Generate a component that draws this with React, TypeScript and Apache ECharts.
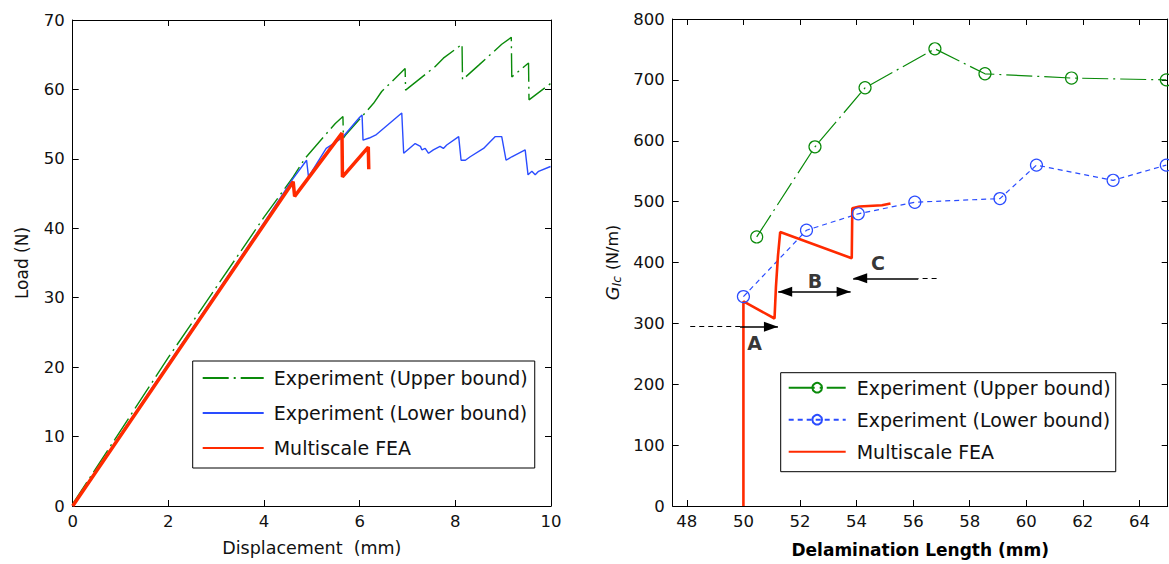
import React, { useEffect, useRef } from 'react';
import * as echarts from 'echarts';

// ---------- Left chart: Load vs Displacement ----------
const loadUpper: number[][] = [
  [0, 0.3], [2, 21.4], [4, 41.6], [4.61, 47.4], [4.86, 50.1], [5.49, 55.1], [5.65, 56.1],
  [5.66, 53.0], [5.7, 53.4], [6.29, 58.0], [6.46, 59.7], [6.95, 63.0], [6.96, 59.9],
  [7.58, 63.3], [7.75, 64.5], [8.14, 66.5], [8.15, 61.4], [8.49, 63.5], [8.97, 66.5],
  [9.17, 67.5], [9.18, 61.8], [9.53, 63.8], [9.54, 58.5], [10, 60.9]
];
const loadLower: number[][] = [
  [0, 0], [2, 20.5], [4, 40.8], [4.61, 47.2], [4.89, 49.8], [4.93, 47.4], [5.3, 51.5],
  [5.63, 53.0], [6.0, 56.0], [6.05, 56.3], [6.07, 52.7], [6.2, 53.0], [6.35, 53.5],
  [6.88, 56.6], [6.92, 50.8], [7.16, 52.2], [7.27, 51.8], [7.3, 51.3], [7.37, 51.5],
  [7.44, 50.8], [7.54, 51.3], [7.68, 51.8], [7.75, 51.5], [7.82, 52.0], [8.07, 53.2],
  [8.12, 49.8], [8.21, 49.8], [8.31, 50.3], [8.59, 51.5], [8.83, 53.2], [8.97, 53.2],
  [9.06, 49.8], [9.18, 50.3], [9.46, 51.3], [9.52, 47.7], [9.6, 48.2], [9.67, 47.7],
  [9.74, 48.2], [9.99, 48.9]
];
const loadFEA: number[][] = [
  [0, 0], [4.61, 46.7], [4.64, 44.6], [5.63, 53.7], [5.64, 47.4], [6.18, 51.7], [6.19, 48.5]
];

// ---------- Right chart: G_Ic vs Delamination length ----------
const gUpperX = [50.47, 52.53, 54.3, 56.77, 58.54, 61.6, 64.95];
const gUpperY = [442, 590, 687, 751, 710, 703, 700];
const gLowerX = [50.0, 52.23, 54.06, 56.06, 59.07, 60.36, 63.07, 64.95];
const gLowerY = [344, 453, 480, 499, 505, 560, 535, 560];
const gFEA: number[][] = [
  [50, 0], [50, 336], [51.1, 308], [51.15, 360], [51.22, 410], [51.3, 450],
  [53.83, 407], [53.85, 489], [54.1, 492], [54.9, 494], [55.2, 497]
];

const leftXTicks = [0, 10, 2];
const leftYTicks = [0, 70, 10];
const rightXLabels = [48, 50, 52, 54, 56, 58, 60, 62, 64];
const rightXRange = [47.5, 65];
const rightYTicks = [0, 800, 100];

const annLabels = [
  { name: 'A', value: [50.4, 267] },
  { name: 'B', value: [52.53, 369] },
  { name: 'C', value: [54.76, 399] }
];

const FONT = 'DejaVu Sans';
const GREEN = '#0a8a0a';
const BLUE = '#2a4cff';
const RED = '#ff2a00';

const NAME_UP = 'Experiment (Upper bound)';
const NAME_LO = 'Experiment (Lower bound)';
const NAME_FEA = 'Multiscale FEA';

export default function App() {
  const ref = useRef<HTMLDivElement>(null);
  useEffect(() => {
    const chart = echarts.init(ref.current!, null, { renderer: 'svg' });
    const axisLine = { show: true, onZero: false, lineStyle: { color: '#000', width: 1 } };
    const tick = { show: true, inside: true, length: 6, lineStyle: { color: '#000' } };
    const lbl = { fontFamily: FONT, fontSize: 16.5, color: '#111' };
    const hidden = { show: false };
    const noMark = { opacity: 0 };

    const arrowEnd = (size: number[]) => ({ symbol: 'triangle', symbolSize: size, symbolOffset: [0, size[1] / 2] });

    const option: any = {
      animation: false,
      backgroundColor: '#fff',
      grid: [
        { left: 72.7, top: 20, width: 478.3, height: 486 },
        { left: 672.7, top: 19, width: 495, height: 487 }
      ],
      xAxis: [
        {
          gridIndex: 0, type: 'value', position: 'bottom', min: leftXTicks[0], max: leftXTicks[1], interval: leftXTicks[2],
          axisLine, axisTick: tick, splitLine: hidden,
          axisLabel: { ...lbl, margin: 7 },
          name: 'Displacement  (mm)', nameLocation: 'middle', nameGap: 33,
          nameTextStyle: { fontFamily: FONT, fontSize: 17.5, color: '#111' }
        },
        {
          gridIndex: 0, type: 'value', position: 'top', min: leftXTicks[0], max: leftXTicks[1], interval: leftXTicks[2],
          axisLine, axisTick: tick, splitLine: hidden, axisLabel: hidden
        },
        {
          gridIndex: 1, type: 'value', position: 'bottom', min: rightXRange[0], max: rightXRange[1],
          axisLine, axisTick: { ...tick, customValues: rightXLabels }, splitLine: hidden,
          axisLabel: { ...lbl, margin: 7, customValues: rightXLabels },
          name: 'Delamination Length (mm)', nameLocation: 'middle', nameGap: 35,
          nameTextStyle: { fontFamily: FONT, fontSize: 17, fontWeight: 'bold', color: '#000' }
        },
        {
          gridIndex: 1, type: 'value', position: 'top', min: rightXRange[0], max: rightXRange[1],
          axisLine, axisTick: { ...tick, customValues: rightXLabels }, splitLine: hidden, axisLabel: hidden
        }
      ],
      yAxis: [
        {
          gridIndex: 0, type: 'value', position: 'left', min: leftYTicks[0], max: leftYTicks[1], interval: leftYTicks[2],
          axisLine, axisTick: tick, splitLine: hidden,
          axisLabel: { ...lbl, margin: 8 },
          name: 'Load (N)', nameLocation: 'middle', nameGap: 42, nameRotate: 90,
          nameTextStyle: { fontFamily: FONT, fontSize: 17, color: '#111' }
        },
        {
          gridIndex: 0, type: 'value', position: 'right', min: leftYTicks[0], max: leftYTicks[1], interval: leftYTicks[2],
          axisLine, axisTick: tick, splitLine: hidden, axisLabel: hidden
        },
        {
          gridIndex: 1, type: 'value', position: 'left', min: rightYTicks[0], max: rightYTicks[1], interval: rightYTicks[2],
          axisLine, axisTick: tick, splitLine: hidden,
          axisLabel: { ...lbl, margin: 8 },
          name: '{g|G}{s|Ic} (N/m)', nameLocation: 'middle', nameGap: 50, nameRotate: 90,
          nameTextStyle: {
            fontFamily: FONT, fontSize: 16, color: '#111',
            rich: {
              g: { fontFamily: FONT, fontSize: 18, fontStyle: 'italic', color: '#111' },
              s: { fontFamily: FONT, fontSize: 12, fontStyle: 'italic', color: '#111', padding: [8, 1, 0, 0] }
            }
          }
        },
        {
          gridIndex: 1, type: 'value', position: 'right', min: rightYTicks[0], max: rightYTicks[1], interval: rightYTicks[2],
          axisLine, axisTick: tick, splitLine: hidden, axisLabel: hidden
        }
      ],
      legend: [
        {
          data: [
            { name: NAME_UP, itemStyle: noMark },
            { name: NAME_LO, itemStyle: noMark },
            { name: NAME_FEA, itemStyle: noMark }
          ],
          orient: 'vertical', left: 192.7, top: 361,
          itemWidth: 61, itemHeight: 14, itemGap: 15,
          padding: [7, 7, 10, 9],
          borderColor: '#000', borderWidth: 1, backgroundColor: '#fff',
          selectedMode: false,
          textStyle: { fontFamily: FONT, fontSize: 19, color: '#111', lineHeight: 20, padding: [0, 0, 0, 5] }
        },
        {
          data: [
            { name: 'R:' + NAME_UP },
            { name: 'R:' + NAME_LO },
            { name: 'R:' + NAME_FEA, itemStyle: noMark }
          ],
          formatter: (n: string) => n.replace('R:', ''),
          orient: 'vertical', left: 780.7, top: 372.7,
          itemWidth: 57, itemHeight: 12, itemGap: 12,
          padding: [5, 5, 10, 7],
          borderColor: '#000', borderWidth: 1, backgroundColor: '#fff',
          selectedMode: false,
          textStyle: { fontFamily: FONT, fontSize: 19, color: '#111', lineHeight: 20, padding: [0, 0, 0, 6] }
        }
      ],
      series: [
        {
          name: NAME_UP, type: 'line', xAxisIndex: 0, yAxisIndex: 0, data: loadUpper, symbol: 'none',
          lineStyle: { color: GREEN, width: 1.4, type: [26, 5, 2, 5] }, itemStyle: { color: GREEN }
        },
        {
          name: NAME_LO, type: 'line', xAxisIndex: 0, yAxisIndex: 0, data: loadLower, symbol: 'none',
          lineStyle: { color: BLUE, width: 1.4 }, itemStyle: { color: BLUE }
        },
        {
          name: NAME_FEA, type: 'line', xAxisIndex: 0, yAxisIndex: 0, data: loadFEA, symbol: 'none',
          lineStyle: { color: RED, width: 3.5 }, itemStyle: { color: RED }
        },
        {
          name: 'R:' + NAME_UP, type: 'line', xAxisIndex: 2, yAxisIndex: 2,
          data: gUpperX.map((x, i) => [x, gUpperY[i]]),
          symbol: 'circle', symbolSize: 12,
          lineStyle: { color: GREEN, width: 1.2, type: [26, 5, 2, 5] },
          itemStyle: { color: 'rgba(255,255,255,0)', borderColor: GREEN, borderWidth: 1.2 }
        },
        {
          name: 'R:' + NAME_LO, type: 'line', xAxisIndex: 2, yAxisIndex: 2,
          data: gLowerX.map((x, i) => [x, gLowerY[i]]),
          symbol: 'circle', symbolSize: 12,
          lineStyle: { color: BLUE, width: 1.2, type: [5, 4] },
          itemStyle: { color: 'rgba(255,255,255,0)', borderColor: BLUE, borderWidth: 1.2 }
        },
        {
          name: 'R:' + NAME_FEA, type: 'line', xAxisIndex: 2, yAxisIndex: 2, data: gFEA, symbol: 'none',
          lineStyle: { color: RED, width: 2.6 }, itemStyle: { color: RED }
        },
        {
          name: 'annotations', type: 'scatter', xAxisIndex: 2, yAxisIndex: 2,
          data: annLabels, symbolSize: 1, itemStyle: { color: 'rgba(0,0,0,0)' },
          label: { show: true, position: 'inside', formatter: '{b}', fontFamily: FONT, fontSize: 19, fontWeight: 'bold', color: '#000' },
          silent: true,
          markLine: {
            silent: true, animation: false, label: { show: false },
            symbol: ['none', 'none'],
            lineStyle: { color: '#000', width: 1.5, type: 'solid' },
            data: [
              [{ coord: [48.12, 294.5], lineStyle: { type: [5, 4], width: 1.2 } }, { coord: [49.88, 294.5] }],
              [{ coord: [49.88, 294.5] }, { coord: [51.22, 294.5], ...arrowEnd([10, 14]) }],
              [{ coord: [51.23, 352], ...arrowEnd([10, 14]) }, { coord: [53.79, 352], ...arrowEnd([10, 14]) }],
              [{ coord: [56.83, 374], lineStyle: { type: [5, 4], width: 1.2 } }, { coord: [56.18, 374] }],
              [{ coord: [56.18, 374] }, { coord: [53.88, 374], ...arrowEnd([10, 14]) }]
            ]
          }
        }
      ]
    };
    chart.setOption(option);
    return () => chart.dispose();
  }, []);
  return (
    <div
      ref={ref}
      style={{ position: 'absolute', left: 0, top: 0, width: 1169, height: 564, background: '#fff' }}
    />
  );
}
